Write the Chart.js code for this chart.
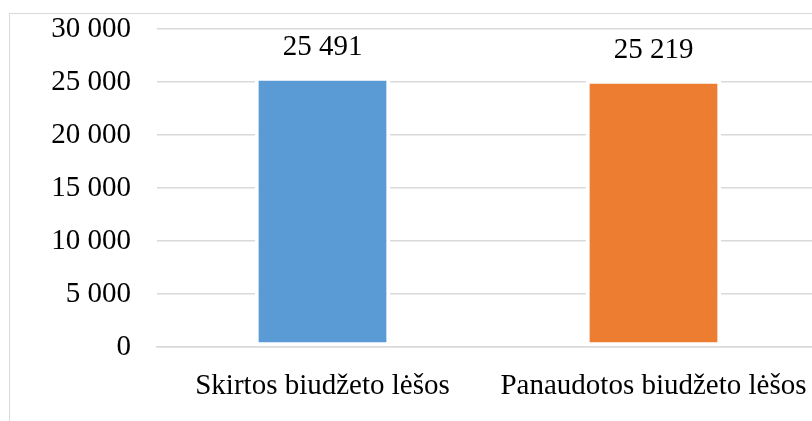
<!DOCTYPE html>
<html>
<head>
<meta charset="utf-8">
<script src="https://cdn.jsdelivr.net/npm/chart.js@4"></script>
<style>
  html, body { margin: 0; padding: 0; background: #fff; overflow: hidden; width: 812px; height: 421px; }
  #frame { position: absolute; left: 9px; top: 13px; width: 830px; height: 440px; border: 1px solid #d9d9d9; }
  #chart { position: absolute; left: 0; top: -10px; }
</style>
</head>
<body>
<div id="frame">
  <canvas id="chart" width="809" height="430"></canvas>
</div>
<script>
const categories = ['Skirtos biudžeto lėšos', 'Panaudotos biudžeto lėšos'];
const values = [25491, 25219];
const barColors = ['#5B9BD5', '#ED7D31'];
const yTicks = { min: 0, max: 30000, step: 5000 };

const fontFamily = '"Liberation Serif", "Times New Roman", serif';

function fmt(v) {
  return String(v).replace(/\B(?=(\d{3})+(?!\d))/g, ' ');
}

// draws the value above each bar
const valueLabels = {
  id: 'valueLabels',
  afterDatasetsDraw(chart) {
    const { ctx } = chart;
    const yScale = chart.scales.y;
    chart.getDatasetMeta(0).data.forEach((bar, i) => {
      const y = yScale.getPixelForValue(values[i]) - 29;
      ctx.save();
      ctx.font = '29px ' + fontFamily;
      ctx.fillStyle = '#000';
      ctx.textAlign = 'center';
      ctx.textBaseline = 'middle';
      ctx.fillText(fmt(values[i]), bar.x, y);
      ctx.restore();
    });
  },
};

new Chart(document.getElementById('chart'), {
  type: 'bar',
  data: {
    labels: categories,
    datasets: [{
      data: values,
      backgroundColor: barColors,
      borderColor: '#ffffff',
      borderWidth: 4,
      borderSkipped: false,
      barPercentage: 1,
      categoryPercentage: 0.41,
    }],
  },
  options: {
    responsive: false,
    animation: false,
    layout: { padding: { top: 25, right: 0, left: 0, bottom: 0 } },
    plugins: {
      legend: { display: false },
      tooltip: { enabled: false },
    },
    scales: {
      x: {
        grid: { display: false, drawTicks: false },
        border: { display: true, color: '#d9d9d9', width: 1.5 },
        ticks: {
          color: '#000',
          padding: 22,
          font: { family: fontFamily, size: 29 },
          maxRotation: 0,
          autoSkip: false,
        },
        afterFit(scale) {
          scale.height = 87;
          scale.paddingLeft = 0;
          scale.paddingRight = 0;
        },
      },
      y: {
        min: yTicks.min,
        max: yTicks.max,
        grid: { color: '#d9d9d9', lineWidth: 1.5, drawTicks: false },
        border: { display: false },
        ticks: {
          stepSize: yTicks.step,
          color: '#000',
          padding: 26,
          font: { family: fontFamily, size: 29 },
          callback: (v) => fmt(v),
        },
        afterFit(scale) {
          scale.width = 147;
          scale.paddingTop = 0;
          scale.paddingBottom = 0;
        },
      },
    },
  },
  plugins: [valueLabels],
});
</script>
</body>
</html>
